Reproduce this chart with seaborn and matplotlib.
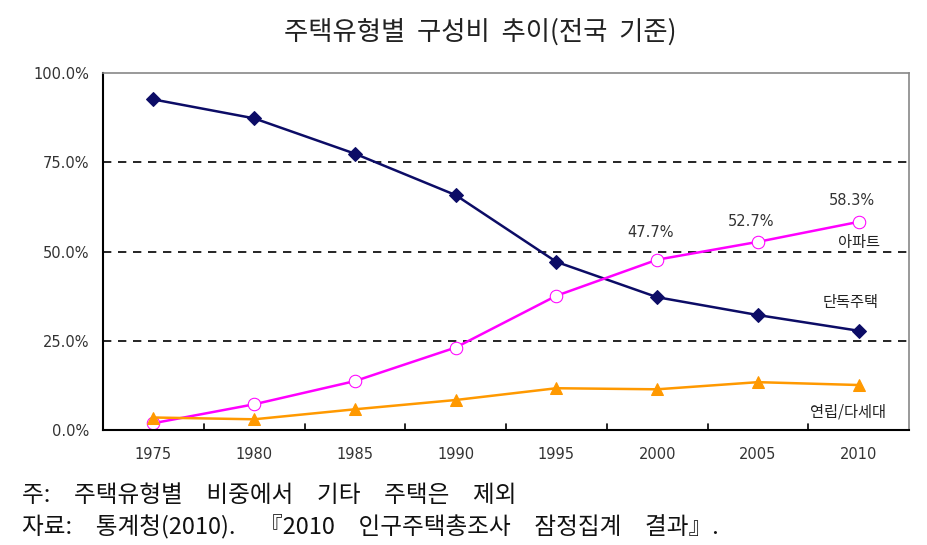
import numpy as np
import pandas as pd
import matplotlib
matplotlib.use("Agg")
import matplotlib.pyplot as plt
import seaborn as sns

# data
years = ["1975", "1980", "1985", "1990", "1995", "2000", "2005", "2010"]
detached = [92.6, 87.3, 77.4, 65.8, 47.1, 37.2, 32.2, 27.8]
apartment = [1.9, 7.2, 13.7, 23.1, 37.6, 47.7, 52.7, 58.3]
rowhouse = [3.5, 3.0, 5.8, 8.4, 11.7, 11.4, 13.4, 12.6]
series_names = ["단독주택", "아파트", "연립/다세대"]

sns.set_theme(style="white")
plt.rcParams['font.family'] = ['Noto Sans CJK KR', 'DejaVu Sans']

df = pd.DataFrame({"year": years * 3,
                   "share": detached + apartment + rowhouse,
                   "type": [series_names[0]] * 8 + [series_names[1]] * 8 + [series_names[2]] * 8})

fig = plt.figure(figsize=(9.27, 5.45), dpi=100)
ax = fig.add_axes([103 / 927, 1 - 430 / 545, 806 / 927, 357 / 545])

styles = {
    "단독주택": dict(color="#0c0c66", marker="D", markersize=7, markerfacecolor="#0c0c66", markeredgecolor="#0c0c66"),
    "아파트": dict(color="#ff00ff", marker="o", markersize=9, markerfacecolor="white", markeredgecolor="#ff00ff"),
    "연립/다세대": dict(color="#ff9900", marker="^", markersize=9, markerfacecolor="#ff9900", markeredgecolor="#ff9900"),
}
for name in series_names:
    sub = df[df["type"] == name]
    sns.lineplot(data=sub, x="year", y="share", ax=ax, linewidth=1.8, legend=False, **styles[name])

for y in [25, 50, 75]:
    ax.axhline(y, color="black", linestyle=(0, (5, 4)), linewidth=1.2, zorder=0)

num_font = "DejaVu Sans"
ax.set_xlim(-0.5, 7.5)
ax.set_ylim(0, 100)
ax.set_yticks([0, 25, 50, 75, 100])
ax.set_yticklabels(["0.0%", "25.0%", "50.0%", "75.0%", "100.0%"], fontsize=10.5, color="#333333", family=num_font)
ax.set_xticks(range(len(years)))
ax.set_xticklabels(years, fontsize=10.5, color="#333333", family=num_font)
ax.tick_params(axis="x", length=0, pad=12)
ax.tick_params(axis="y", length=0, pad=10)
# boundary ticks between categories
for b in np.arange(0.5, 7.5, 1.0):
    ax.plot([b, b], [0, 1.8], color="black", linewidth=1.2, clip_on=False)
ax.set_xlabel("")
ax.set_ylabel("")

for side in ["left", "bottom"]:
    ax.spines[side].set_color("black")
    ax.spines[side].set_linewidth(1.5)
for side in ["top", "right"]:
    ax.spines[side].set_color("#888888")
    ax.spines[side].set_linewidth(1.2)

# value labels for the apartment series
label_lift = {5: 7.7, 6: 5.6, 7: 5.9}
for i, lift in label_lift.items():
    ax.text(i - 0.07, apartment[i] + lift, f"{apartment[i]:.1f}%", ha="center", va="center",
            fontsize=10.5, color="#333333", family=num_font)

ax.text(7, 52.4, "아파트", ha="center", va="center", fontsize=11, color="#222222")
ax.text(6.92, 35.6, "단독주택", ha="center", va="center", fontsize=11, color="#222222")
ax.text(6.89, 5.0, "연립/다세대", ha="center", va="center", fontsize=11, color="#222222")

fig.text(0.518, 1 - 32 / 545, "주택유형별  구성비  추이(전국  기준)", ha="center", va="center", fontsize=19, color="#222222")
fig.text(22 / 927, 1 - 496 / 545, "주:\u3000주택유형별\u3000비중에서\u3000기타\u3000주택은\u3000제외",
         ha="left", va="center", fontsize=17, color="#111111")
fig.text(22 / 927, 1 - 527 / 545, "자료:\u3000통계청(2010).\u3000『2010\u3000인구주택총조사\u3000잠정집계\u3000결과』.",
         ha="left", va="center", fontsize=17, color="#111111")

fig.savefig("out.png", dpi=100)
